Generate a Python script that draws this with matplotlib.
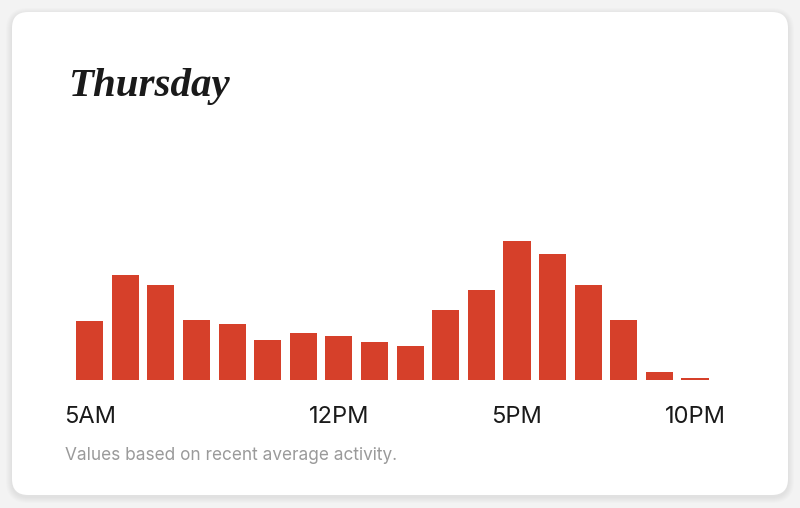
import matplotlib
matplotlib.use("Agg")
import matplotlib.pyplot as plt
from matplotlib.patches import FancyBboxPatch

# busyness by hour, relative to the peak
hours = ["5AM", "6AM", "7AM", "8AM", "9AM", "10AM", "11AM", "12PM", "1PM",
         "2PM", "3PM", "4PM", "5PM", "6PM", "7PM", "8PM", "9PM", "10PM"]
busy = [42.1, 75.5, 68.5, 42.8, 39.7, 28.4, 33.2, 31.5, 26.7,
        24.2, 50.0, 64.4, 100.0, 90.6, 68.5, 42.8, 5.5, 1.2]
tick_idx = [0, 7, 12, 17]
tick_labels = ["5AM", "12PM", "5PM", "10PM"]
title = "Thursday"
note = "Values based on recent average activity."

W, H = 800, 508
fig = plt.figure(figsize=(W / 100, H / 100), dpi=100)
fig.patch.set_facecolor("#f3f3f3")

# card background with a soft shadow
bg = fig.add_axes([0, 0, 1, 1])
bg.set_xlim(0, W)
bg.set_ylim(H, 0)
bg.axis("off")
for g in range(6, 0, -1):
    bg.add_patch(FancyBboxPatch((12 - g, 12 - g + 2), 776 + 2 * g, 483 + 2 * g,
                                boxstyle="round,pad=0,rounding_size=%d" % (16 + g),
                                fc="black", ec="none", alpha=0.012))
bg.add_patch(FancyBboxPatch((12, 12), 776, 483,
                            boxstyle="round,pad=0,rounding_size=16",
                            fc="white", ec="none"))

# bar chart
x0, x1 = 60, 725
step = (695 - 89.7) / 17
lo = -(89.7 - x0) / step
hi = 17 + (x1 - 695) / step
base = 379.5
px_per = 138.6 / 100
top = 110
ax = fig.add_axes([x0 / W, (H - base) / H, (x1 - x0) / W, top * px_per / H])
ax.bar(range(len(busy)), busy, width=0.76, color="#d6402a")
ax.set_xlim(lo, hi)
ax.set_ylim(0, top)
ax.patch.set_alpha(0)
for s in ax.spines.values():
    s.set_visible(False)
ax.set_yticks([])
ax.set_xticks(tick_idx)
ax.set_xticklabels(tick_labels, family="Inter", fontsize=17, color="#1a1a1a")
ax.tick_params(axis="x", length=0, pad=19)

fig.text(68 / W, 1 - 96 / H, title, family="Liberation Serif", style="italic",
         weight="bold", fontsize=29.5, color="#1a1a1a", va="baseline")
fig.text(65 / W, 1 - 460 / H, note, family="Inter", fontsize=12.4,
         color="#9a9a9a", va="baseline")

fig.savefig("out.png", dpi=100, facecolor=fig.get_facecolor())
